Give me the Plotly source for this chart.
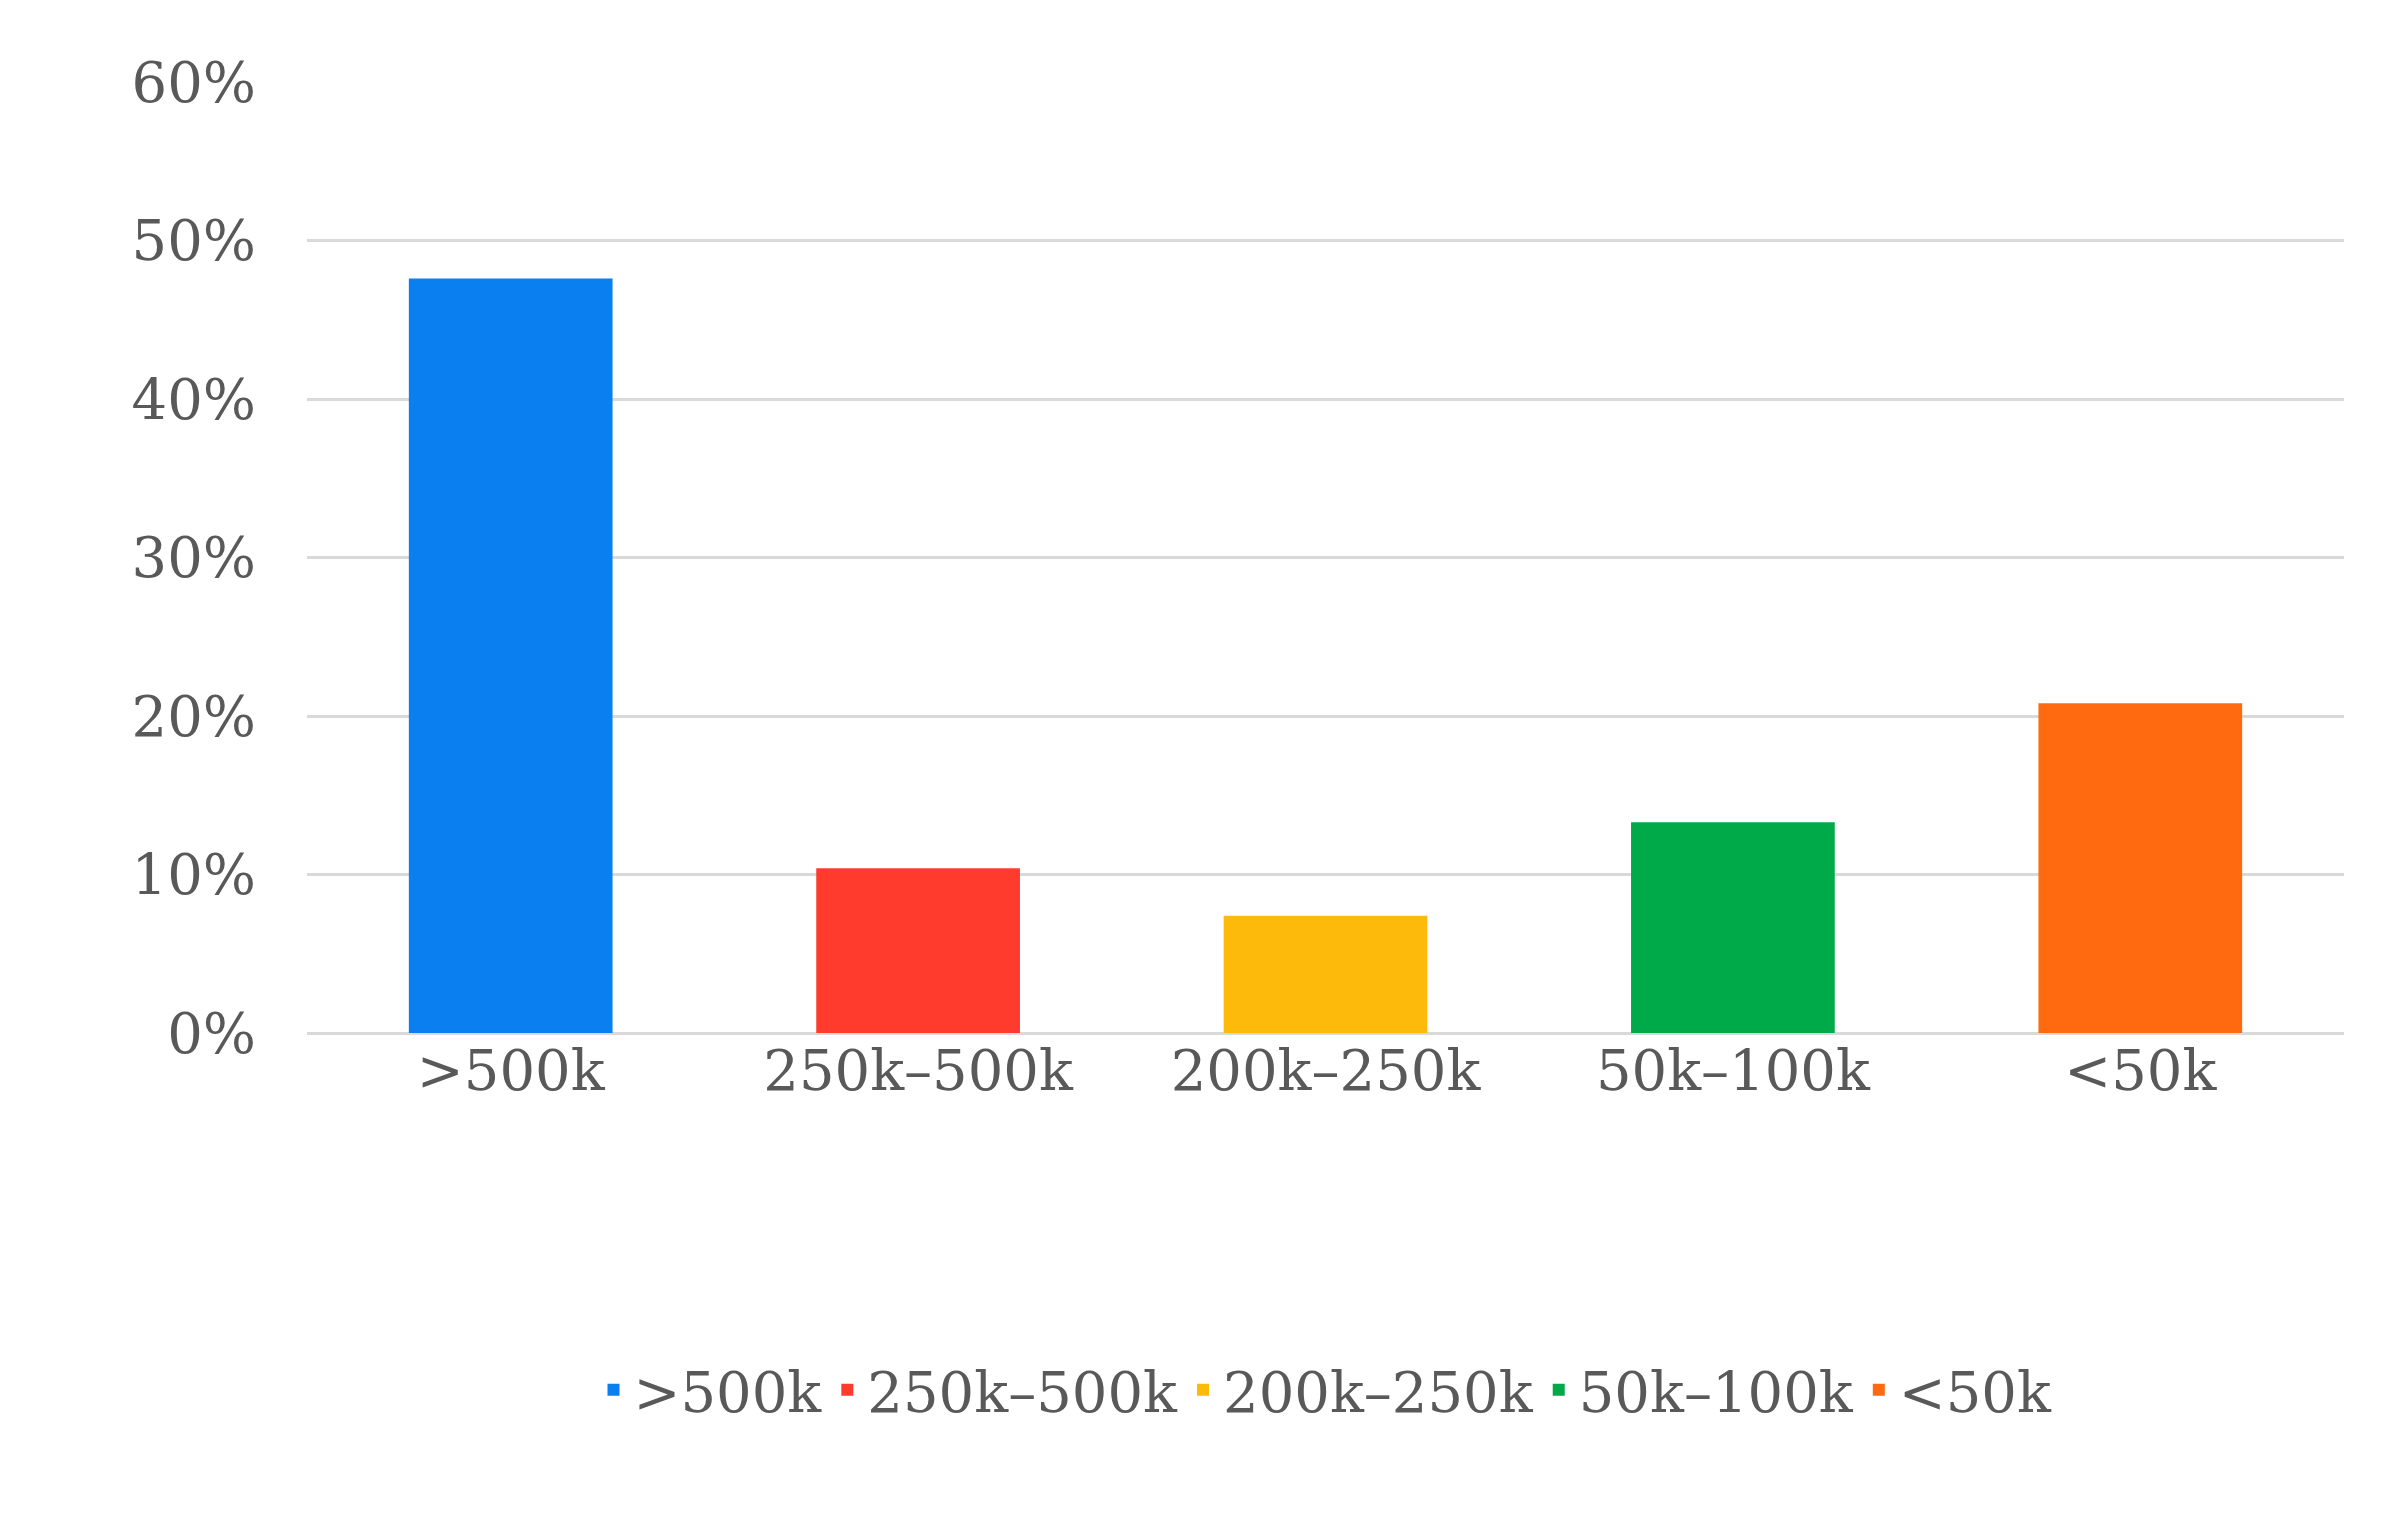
import plotly.graph_objects as go

categories = [">500k", "250k\u2013500k", "200k\u2013250k", "50k\u2013100k", "<50k"]
values = [47.6, 10.4, 7.4, 13.3, 20.8]
colors = ["#0A7FF0", "#FF3B2E", "#FDBA0A", "#00AA48", "#FF6A10"]

fig = go.Figure()
for c, v, col in zip(categories, values, colors):
    fig.add_trace(go.Bar(x=[c], y=[v], name=c, marker=dict(color=col, line=dict(width=0)), width=0.5))

font = dict(family="DejaVu Serif", size=56, color="#595959")
fig.update_layout(
    width=2395, height=1533, barmode="relative",
    plot_bgcolor="white", paper_bgcolor="white",
    margin=dict(l=299, r=59, t=74, b=508),
    font=font,
    xaxis=dict(categoryorder="array", categoryarray=categories, showgrid=False,
               ticks="", tickfont=font, showline=False),
    yaxis=dict(range=[0, 60], dtick=10, ticksuffix="%", showgrid=True,
               gridcolor="#D9D9D9", gridwidth=3, zeroline=True, zerolinecolor="#D9D9D9",
               zerolinewidth=3, tickfont=font, ticklabelstandoff=50),
    legend=dict(orientation="h", x=0.5, xanchor="center", y=-0.33, yanchor="top",
                font=font, itemwidth=30, traceorder="normal"),
    bargap=0.5,
)
fig.write_html("out.html")
